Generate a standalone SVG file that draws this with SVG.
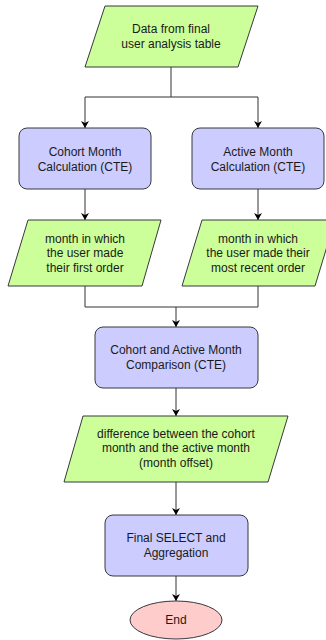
<svg xmlns="http://www.w3.org/2000/svg" width="326" height="640" viewBox="0 0 326 640">
  <style>
    .io { fill: #ccff99; stroke: #36393d; stroke-width: 1; }
    .proc { fill: #ccccff; stroke: #36393d; stroke-width: 1; }
    .term { fill: #ffcccc; stroke: #36393d; stroke-width: 1; }
    .lbl { font-family: "Liberation Sans", Arial, sans-serif; font-size: 12px; fill: #1a1a1a; text-anchor: middle; }
    .edge { fill: none; stroke: #333333; stroke-width: 1; marker-end: url(#arrow); }
    .join { fill: none; stroke: #333333; stroke-width: 1; }
  </style>
  <defs>
    <marker id="arrow" markerWidth="8" markerHeight="8" refX="7" refY="4" orient="auto" markerUnits="userSpaceOnUse">
      <path d="M0,0 L7,4 L0,8 L2,4 Z" fill="#000000"/>
    </marker>
  </defs>
  <rect width="326" height="640" fill="#ffffff"/>

  <g id="connectors">
    <path class="join" d="M171,67 V97"/>
    <path class="edge" d="M171,97 H85 V128"/>
    <path class="edge" d="M171,97 H258 V128"/>
    <path class="edge" d="M85,189 V220"/>
    <path class="edge" d="M258,189 V220"/>
    <path class="join" d="M85,286 V307 H258 V286"/>
    <path class="edge" d="M176,307 V327"/>
    <path class="edge" d="M176,388 V416"/>
    <path class="edge" d="M176,482 V515"/>
    <path class="edge" d="M176,576 V601"/>
  </g>

  <g id="source-data">
    <polygon class="io" points="105,6 258,6 238,67 85,67"/>
    <text class="lbl" x="171" y="33">Data from final</text>
    <text class="lbl" x="171" y="48">user analysis table</text>
  </g>

  <g id="cohort-month-cte">
    <rect class="proc" x="19" y="128" width="132" height="61" rx="8"/>
    <text class="lbl" x="85" y="156">Cohort Month</text>
    <text class="lbl" x="85" y="171">Calculation (CTE)</text>
  </g>

  <g id="active-month-cte">
    <rect class="proc" x="192" y="128" width="132" height="61" rx="8"/>
    <text class="lbl" x="258" y="156">Active Month</text>
    <text class="lbl" x="258" y="171">Calculation (CTE)</text>
  </g>

  <g id="first-order-month">
    <polygon class="io" points="28,220 161,220 142,286 8,286"/>
    <text class="lbl" x="85" y="243">month in which</text>
    <text class="lbl" x="85" y="257">the user made</text>
    <text class="lbl" x="85" y="272">their first order</text>
  </g>

  <g id="recent-order-month">
    <polygon class="io" points="202,220 335,220 315,286 182,286"/>
    <text class="lbl" x="258" y="243">month in which</text>
    <text class="lbl" x="258" y="257">the user made their</text>
    <text class="lbl" x="258" y="272">most recent order</text>
  </g>

  <g id="comparison-cte">
    <rect class="proc" x="95" y="327" width="163" height="61" rx="8"/>
    <text class="lbl" x="176" y="354">Cohort and Active Month</text>
    <text class="lbl" x="176" y="369">Comparison (CTE)</text>
  </g>

  <g id="month-offset">
    <polygon class="io" points="83,416 288,416 268,482 64,482"/>
    <text class="lbl" x="176" y="438">difference between the cohort</text>
    <text class="lbl" x="176" y="452">month and the active month</text>
    <text class="lbl" x="176" y="467">(month offset)</text>
  </g>

  <g id="final-select">
    <rect class="proc" x="105" y="515" width="143" height="61" rx="8"/>
    <text class="lbl" x="176" y="542">Final SELECT and</text>
    <text class="lbl" x="176" y="557">Aggregation</text>
  </g>

  <g id="end">
    <ellipse class="term" cx="176" cy="620" rx="46" ry="19"/>
    <text class="lbl" x="176" y="624">End</text>
  </g>
</svg>
